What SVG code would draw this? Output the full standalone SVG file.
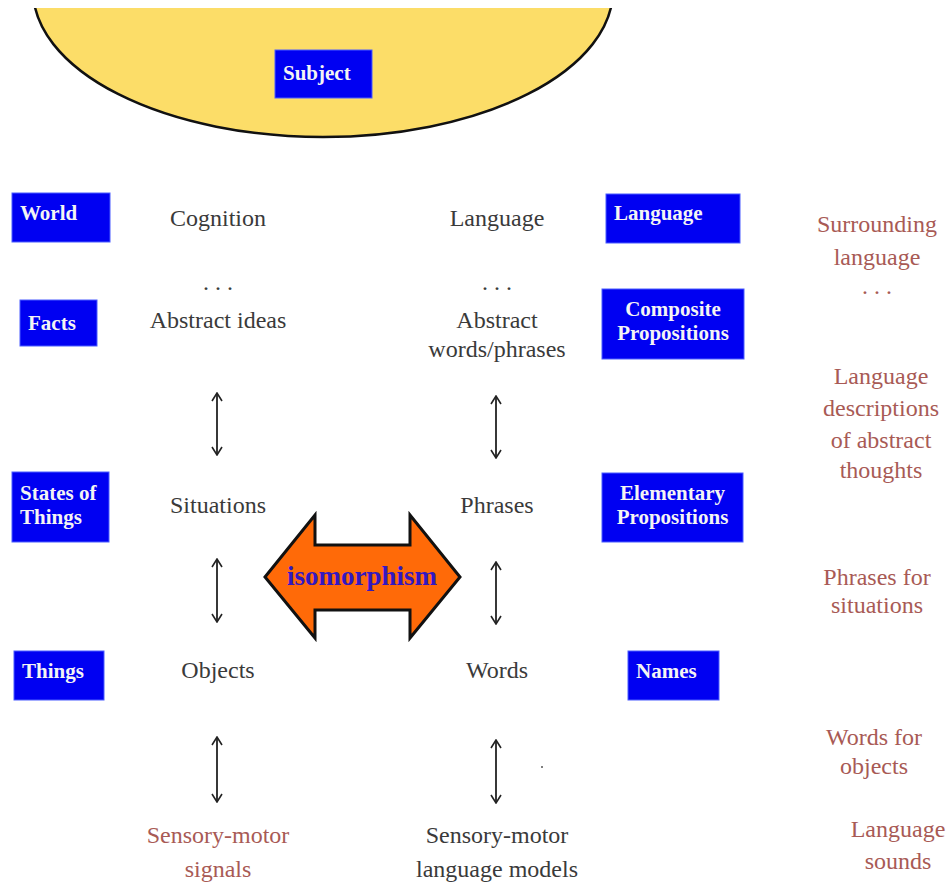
<svg xmlns="http://www.w3.org/2000/svg" width="946" height="888" viewBox="0 0 946 888">
<style>
.box{fill:#0000F2;stroke:#4a5cff;stroke-width:1}
.bt{font-family:"Liberation Serif",serif;font-weight:bold;font-size:21px;fill:#F4F4F4}
.t{font-family:"Liberation Serif",serif;font-size:24px;fill:#3a3a3a;text-anchor:middle}
.r{font-family:"Liberation Serif",serif;font-size:24px;fill:#A85A55;text-anchor:middle}
.arr{stroke:#222;stroke-width:1.8;fill:none}
</style>
<defs>
<clipPath id="clipTop"><rect x="0" y="8" width="946" height="880"/></clipPath>
<marker id="head" viewBox="0 0 10 12" refX="9" refY="6" markerWidth="10" markerHeight="12" markerUnits="userSpaceOnUse" orient="auto-start-reverse">
<path d="M1,1 L9,6 L1,11" fill="none" stroke="#222" stroke-width="1.6"/>
</marker>
</defs>
<rect width="946" height="888" fill="#fff"/>

<g id="subject-area">
<ellipse cx="323" cy="-10" rx="290" ry="147" fill="#FCDD68" stroke="#111" stroke-width="2.5" clip-path="url(#clipTop)"/>
</g>
<g id="subject">
<rect class="box" x="275" y="50" width="97" height="48"/>
<text class="bt" x="283" y="80" font-size="22">Subject</text>
</g>

<g id="world"><rect class="box" x="12" y="193" width="98" height="49"/><text class="bt" x="20" y="220">World</text></g>
<g id="facts"><rect class="box" x="20" y="300" width="77" height="46"/><text class="bt" x="28" y="330">Facts</text></g>
<g id="states"><rect class="box" x="12" y="472" width="97" height="70"/><text class="bt" x="20" y="500">States of</text><text class="bt" x="20" y="524">Things</text></g>
<g id="things"><rect class="box" x="14" y="651" width="90" height="49"/><text class="bt" x="22" y="678">Things</text></g>
<g id="language-box"><rect class="box" x="606" y="194" width="134" height="49"/><text class="bt" x="614" y="220">Language</text></g>
<g id="composite"><rect class="box" x="602" y="289" width="142" height="70"/><text class="bt" x="673" y="316" text-anchor="middle">Composite</text><text class="bt" x="673" y="340" text-anchor="middle">Propositions</text></g>
<g id="elementary"><rect class="box" x="602" y="473" width="141" height="69"/><text class="bt" x="672.5" y="500" text-anchor="middle">Elementary</text><text class="bt" x="672.5" y="524" text-anchor="middle">Propositions</text></g>
<g id="names"><rect class="box" x="628" y="651" width="91" height="49"/><text class="bt" x="636" y="678">Names</text></g>

<g id="cognition-col">
<text class="t" x="218" y="226">Cognition</text>
<text class="t" x="218" y="290">. . .</text>
<text class="t" x="218" y="328">Abstract ideas</text>
<text class="t" x="218" y="513">Situations</text>
<text class="t" x="218" y="678">Objects</text>
<text class="r" x="218" y="843">Sensory-motor</text>
<text class="r" x="218" y="877">signals</text>
</g>
<g id="language-col">
<text class="t" x="497" y="226">Language</text>
<text class="t" x="497" y="290">. . .</text>
<text class="t" x="497" y="328">Abstract</text>
<text class="t" x="497" y="357">words/phrases</text>
<text class="t" x="497" y="513">Phrases</text>
<text class="t" x="497" y="678">Words</text>
<text class="t" x="497" y="843">Sensory-motor</text>
<text class="t" x="497" y="877">language models</text>
<circle cx="542" cy="767" r="1" fill="#555"/>
</g>
<g id="descriptions">
<text class="r" x="877" y="232">Surrounding</text>
<text class="r" x="877" y="265">language</text>
<text class="r" x="877" y="294">. . .</text>
<text class="r" x="881" y="384">Language</text>
<text class="r" x="881" y="416">descriptions</text>
<text class="r" x="881" y="448">of abstract</text>
<text class="r" x="881" y="478">thoughts</text>
<text class="r" x="877" y="585">Phrases for</text>
<text class="r" x="877" y="613">situations</text>
<text class="r" x="874" y="745">Words for</text>
<text class="r" x="874" y="774">objects</text>
<text class="r" x="898" y="837">Language</text>
<text class="r" x="898" y="869">sounds</text>
</g>

<g id="connectors">
<line class="arr" x1="217" y1="393" x2="217" y2="455" marker-start="url(#head)" marker-end="url(#head)"/>
<line class="arr" x1="217" y1="559" x2="217" y2="622" marker-start="url(#head)" marker-end="url(#head)"/>
<line class="arr" x1="217" y1="737" x2="217" y2="802" marker-start="url(#head)" marker-end="url(#head)"/>
<line class="arr" x1="496" y1="396" x2="496" y2="458" marker-start="url(#head)" marker-end="url(#head)"/>
<line class="arr" x1="496" y1="562" x2="496" y2="624" marker-start="url(#head)" marker-end="url(#head)"/>
<line class="arr" x1="496" y1="740" x2="496" y2="803" marker-start="url(#head)" marker-end="url(#head)"/>
</g>

<g id="isomorphism">
<polygon points="265,577 315,515 315,545 410,545 410,515 460,577 410,638 410,610 315,610 315,638" fill="#FF6A08" stroke="#111" stroke-width="3" stroke-linejoin="miter"/>
<text x="362" y="585" text-anchor="middle" font-family="Liberation Serif, serif" font-weight="bold" font-size="27" fill="#3318C0">isomorphism</text>
</g>
</svg>
